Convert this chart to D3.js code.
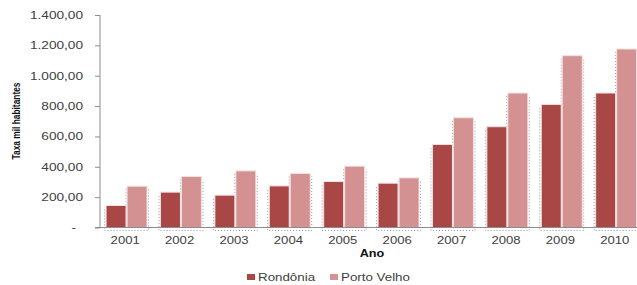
<!DOCTYPE html>
<meta charset="utf-8">
<script src="https://d3js.org/d3.v7.js"></script>
<style>
  body { margin: 0; background: #fff; }
  text { font-family: "Liberation Sans", Arial, sans-serif; }
</style>
<body>
<div id="chart"></div>
<script>
  const years = ["2001", "2002", "2003", "2004", "2005", "2006", "2007", "2008", "2009", "2010"];
  const rondonia = [145, 233, 213, 274, 303, 292, 547, 664, 811, 886];
  const portoVelho = [272, 336, 373, 356, 404, 327, 723, 886, 1132, 1176];
  const seriesNames = ["Rondônia", "Porto Velho"];
  const yTicks = [0, 200, 400, 600, 800, 1000, 1200, 1400];

  const width = 637, height = 285;
  const svg = d3.select("#chart").append("svg")
    .attr("width", width)
    .attr("height", height);

  const x = d3.scaleBand().domain(years).range([98, 642]).paddingInner(0).paddingOuter(0);
  const xs = d3.scaleBand().domain(seriesNames).range([0, x.bandwidth()])
    .paddingInner(0.05).paddingOuter(0.32).align(0.6);
  const y = d3.scaleLinear().domain([0, 1400]).range([227.5, 15]);
  const color = d3.scaleOrdinal().domain(seriesNames).range(["#a84745", "#d39191"]);

  const fmt = v => v === 0 ? "-" : d3.formatLocale({decimal: ",", thousands: ".", grouping: [3]}).format(",.2f")(v);

  // y axis
  const sy = 1.3;
  const yAxis = svg.append("g")
    .attr("transform", "translate(100,0)")
    .call(d3.axisLeft(y).tickValues(yTicks).tickFormat(fmt).tickSize(5));
  yAxis.select(".domain").attr("stroke", "#8c8c8c").attr("d", "M0,15V227.5");
  yAxis.selectAll(".tick line").attr("stroke", "#8c8c8c");
  yAxis.selectAll(".tick text")
    .attr("fill", "#404040").style("font-size", "10.5px")
    .attr("x", d => d === 0 ? -24 / sy : -17 / sy)
    .attr("transform", `scale(${sy},1)`);

  const rows = years.map((yr, i) => ({year: yr, values: [rondonia[i], portoVelho[i]]}));

  const groups = svg.append("g").selectAll("g")
    .data(rows).join("g")
    .attr("transform", d => `translate(${x(d.year)},0)`);

  // dotted shadow outlines
  groups.each(function(d) {
    const g = d3.select(this);
    const x0 = xs("Rondônia") - 1.5;
    const x1 = xs("Porto Velho") + xs.bandwidth() + 1.5;
    const xm = xs("Porto Velho") - 1;
    const p = `M${x0},${y(d.values[0]) + 4}V${y(0) + 3}H${x1}V${y(d.values[1]) + 3}` +
      (d.values[1] > d.values[0] ? `M${xm},${y(d.values[1]) + 3}V${y(d.values[0])}` : "");
    g.append("path").attr("d", p).attr("fill", "none")
      .attr("stroke", "#9a9a9a").attr("stroke-width", 1).attr("stroke-dasharray", "1,2");
  });

  groups.selectAll("rect")
    .data(d => d.values.map((v, j) => ({name: seriesNames[j], value: v})))
    .join("rect")
    .attr("x", d => xs(d.name))
    .attr("y", d => y(d.value))
    .attr("width", xs.bandwidth())
    .attr("height", d => y(0) - y(d.value))
    .attr("fill", d => color(d.name))
    .attr("stroke", "#f3e1e1")
    .attr("stroke-width", 1);

  // x axis
  const xAxis = svg.append("g")
    .attr("transform", "translate(0,227.5)")
    .call(d3.axisBottom(x).tickSize(0).tickPadding(9));
  xAxis.select(".domain").attr("stroke", "#8c8c8c").attr("stroke-width", 1.2).attr("d", "M95,0H637");
  xAxis.selectAll(".tick text")
    .attr("fill", "#404040").style("font-size", "10.5px")
    .attr("transform", "scale(1.25,1)");

  svg.append("text")
    .attr("transform", "translate(372,257) scale(1.15,1)")
    .attr("text-anchor", "middle")
    .style("font-size", "11px").style("font-weight", "bold")
    .attr("fill", "#111")
    .text("Ano");

  svg.append("text")
    .attr("transform", "translate(20,121) rotate(-90)")
    .attr("text-anchor", "middle")
    .attr("textLength", 77).attr("lengthAdjust", "spacingAndGlyphs")
    .style("font-family", "'Liberation Sans Narrow', 'Liberation Sans', sans-serif")
    .style("font-size", "11.5px").style("font-weight", "bold")
    .attr("fill", "#111")
    .text("Taxa mil habitantes");

  // legend
  const legend = svg.append("g").selectAll("g")
    .data(seriesNames).join("g")
    .attr("transform", (d, i) => `translate(${i === 0 ? 247 : 330},277)`);
  legend.append("rect").attr("x", 0).attr("y", -3).attr("width", 8).attr("height", 6)
    .attr("fill", d => color(d));
  legend.append("text")
    .attr("transform", "translate(11,3.5) scale(1.27,1)")
    .style("font-size", "10.5px").attr("fill", "#404040")
    .text(d => d);
</script>
</body>
